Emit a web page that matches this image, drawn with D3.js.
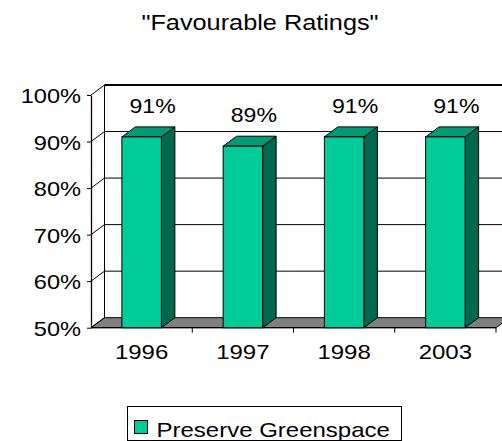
<!DOCTYPE html>
<html>
<head>
<meta charset="utf-8">
<script src="https://cdn.jsdelivr.net/npm/d3@7"></script>
<style>
  html, body { margin: 0; padding: 0; background: #fff; }
  svg { display: block; font-family: "Liberation Sans", Arial, sans-serif; }
</style>
</head>
<body>
<svg id="chart" width="502" height="441"></svg>
<script>
// Chart data
const title = "\"Favourable Ratings\"";
const categories = ["1996", "1997", "1998", "2003"];
const values = [91, 89, 91, 91];
const yTicks = [50, 60, 70, 80, 90, 100];
const seriesName = "Preserve Greenspace";

const colors = { front: "#00cc99", top: "#009a77", side: "#00684e", floor: "#808080" };

const svg = d3.select("#chart");

// Plot frame (front face) and 3D depth offset
const plot = { left: 91, right: 496, top: 95, bottom: 327.7 };
const depth = { dx: 13.5, dy: -10 };

const x = d3.scaleBand().domain(categories).range([plot.left, plot.right]);
const y = d3.scaleLinear().domain([50, 100]).range([plot.bottom, plot.top]);
const barW = x.bandwidth() * 0.39;

// Stretched text helper (wide Arial look)
function stretchText(sel, sx) {
  sel.each(function () {
    const t = d3.select(this);
    const tx = +t.attr("data-x"), ty = +t.attr("data-y");
    t.attr("transform", `translate(${tx},${ty}) scale(${sx},1)`);
  });
}

// Title
svg.append("text")
  .attr("data-x", 260).attr("data-y", 30)
  .attr("text-anchor", "middle")
  .attr("font-size", 22)
  .attr("fill", "#000")
  .text(title)
  .call(stretchText, 1.15);

// Floor
const floorY = y(50);
svg.append("polygon")
  .attr("points", [
    [plot.left, floorY],
    [plot.right, floorY],
    [plot.right + depth.dx, floorY + depth.dy],
    [plot.left + depth.dx, floorY + depth.dy]
  ].map(p => p.join(",")).join(" "))
  .attr("fill", colors.floor)
  .attr("stroke", "#000")
  .attr("stroke-width", 1);

// Back wall gridlines
svg.append("g").selectAll("line")
  .data(yTicks.filter(t => t > 50))
  .join("line")
  .attr("x1", plot.left + depth.dx)
  .attr("x2", plot.right + depth.dx + 20)
  .attr("y1", d => y(d) + depth.dy)
  .attr("y2", d => y(d) + depth.dy)
  .attr("stroke", "#000")
  .attr("stroke-width", d => d === 100 ? 2 : 1);

// Back wall vertical edge
svg.append("line")
  .attr("x1", plot.left + depth.dx).attr("x2", plot.left + depth.dx)
  .attr("y1", y(100) + depth.dy).attr("y2", y(50) + depth.dy)
  .attr("stroke", "#000").attr("stroke-width", 1);

// Side wall gridlines (diagonals from front axis to back wall)
svg.append("g").selectAll("line")
  .data(yTicks)
  .join("line")
  .attr("x1", plot.left).attr("y1", d => y(d))
  .attr("x2", plot.left + depth.dx).attr("y2", d => y(d) + depth.dy)
  .attr("stroke", "#000").attr("stroke-width", 1);

// Front vertical axis
const yAxis = svg.append("g")
  .attr("transform", `translate(${plot.left},0)`)
  .call(d3.axisLeft(y).tickValues(yTicks).tickSize(4).tickSizeOuter(0).tickFormat(d => d + "%"));
yAxis.select(".domain").attr("stroke", "#000").attr("stroke-width", 1.3);
yAxis.selectAll(".tick line").attr("stroke", "#000");
yAxis.selectAll(".tick text")
  .attr("font-family", "Liberation Sans, Arial, sans-serif")
  .attr("font-size", 20)
  .attr("fill", "#000")
  .attr("dy", null)
  .attr("x", null)
  .attr("data-x", -10).attr("data-y", 7.5)
  .call(stretchText, 1.18);

// Horizontal axis line and category separator ticks
svg.append("line")
  .attr("x1", plot.left).attr("x2", plot.right)
  .attr("y1", plot.bottom).attr("y2", plot.bottom)
  .attr("stroke", "#000").attr("stroke-width", 1.3);
svg.append("g").selectAll("line")
  .data(categories.slice(1).map(c => x(c)).concat([plot.right]))
  .join("line")
  .attr("x1", d => d).attr("x2", d => d)
  .attr("y1", plot.bottom).attr("y2", plot.bottom + 5)
  .attr("stroke", "#000");

const xAxis = svg.append("g")
  .attr("transform", `translate(0,${plot.bottom})`)
  .call(d3.axisBottom(x).tickSize(0));
xAxis.select(".domain").remove();
xAxis.selectAll(".tick text")
  .attr("font-family", "Liberation Sans, Arial, sans-serif")
  .attr("font-size", 20)
  .attr("fill", "#000")
  .attr("dy", null)
  .attr("y", null)
  .attr("data-x", 0).attr("data-y", 31.6)
  .call(stretchText, 1.2);

// Bars (front face, side, top)
const bars = svg.append("g").selectAll("g")
  .data(categories.map((c, i) => ({ c, v: values[i] })))
  .join("g");

bars.append("polygon")
  .attr("points", d => {
    const x1 = x(d.c) + (x.bandwidth() - barW) / 2 + barW;
    const yt = y(d.v), yb = y(50);
    return [[x1, yt], [x1 + depth.dx, yt + depth.dy], [x1 + depth.dx, yb + depth.dy], [x1, yb]]
      .map(p => p.join(",")).join(" ");
  })
  .attr("fill", colors.side).attr("stroke", "#000").attr("stroke-width", 1)
  .attr("stroke-linejoin", "round");

bars.append("polygon")
  .attr("points", d => {
    const x0 = x(d.c) + (x.bandwidth() - barW) / 2;
    const x1 = x0 + barW;
    const yt = y(d.v);
    return [[x0, yt], [x1, yt], [x1 + depth.dx, yt + depth.dy], [x0 + depth.dx, yt + depth.dy]]
      .map(p => p.join(",")).join(" ");
  })
  .attr("fill", colors.top).attr("stroke", "#000").attr("stroke-width", 1)
  .attr("stroke-linejoin", "round");

bars.append("rect")
  .attr("x", d => x(d.c) + (x.bandwidth() - barW) / 2)
  .attr("y", d => y(d.v))
  .attr("width", barW)
  .attr("height", d => y(50) - y(d.v))
  .attr("fill", colors.front).attr("stroke", "#000").attr("stroke-width", 1);

// Value labels
bars.append("text")
  .attr("data-x", d => x(d.c) + x.bandwidth() / 2 + 11)
  .attr("data-y", d => y(d.v) - 24)
  .attr("text-anchor", "middle")
  .attr("font-size", 21)
  .attr("fill", "#000")
  .text(d => d.v + "%")
  .call(stretchText, 1.1);

// Legend
const legend = svg.append("g");
legend.append("rect")
  .attr("x", 127.5).attr("y", 406.5).attr("width", 274).attr("height", 34)
  .attr("fill", "#fff").attr("stroke", "#000").attr("stroke-width", 1);
legend.append("rect")
  .attr("x", 134.5).attr("y", 420.5).attr("width", 13).attr("height", 13)
  .attr("fill", colors.front).attr("stroke", "#000").attr("stroke-width", 1);
legend.append("text")
  .attr("data-x", 156.5).attr("data-y", 437)
  .attr("font-size", 20)
  .attr("fill", "#000")
  .text(seriesName)
  .call(stretchText, 1.2);
</script>
</body>
</html>
